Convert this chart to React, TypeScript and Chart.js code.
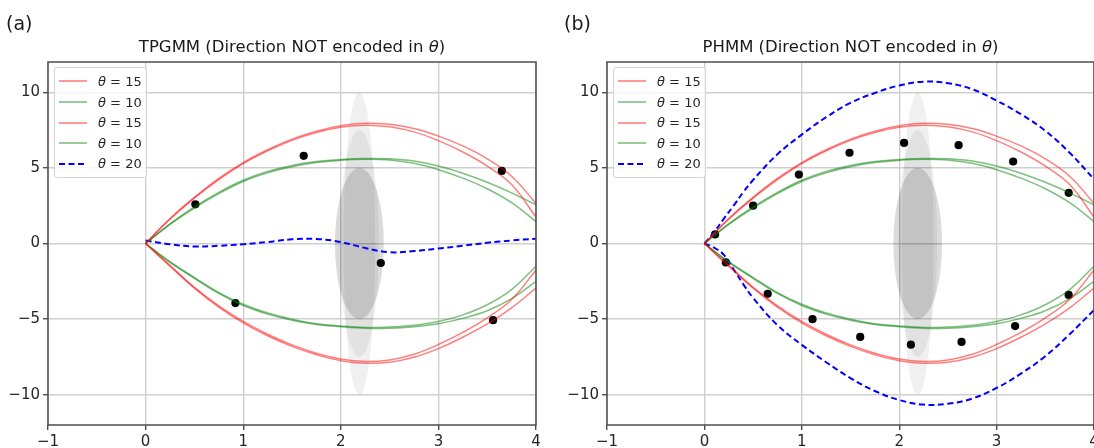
import React, { useEffect, useRef } from "react";
import { Chart, registerables } from "chart.js";

Chart.register(...registerables);

// ---------- data ----------
const xTicks = [-1, 0, 1, 2, 3, 4];
const yTicks = [-10, -5, 0, 5, 10];

const curveX = [0, 0.25, 0.5, 0.75, 1, 1.25, 1.5, 1.75, 2, 2.25, 2.5, 2.75, 3, 3.25, 3.5, 3.75, 4];
const redUpperOuter = [0, 1.65, 3.05, 4.3, 5.35, 6.2, 6.9, 7.42, 7.78, 7.95, 7.88, 7.6, 7.1, 6.45, 5.6, 4.45, 2.65];
const redUpperInner = [0, 1.6, 3.0, 4.22, 5.28, 6.12, 6.82, 7.33, 7.68, 7.82, 7.72, 7.38, 6.8, 6.05, 5.12, 3.9, 1.75];
const greenUpperOuter = [0, 1.3, 2.42, 3.38, 4.18, 4.76, 5.16, 5.42, 5.56, 5.62, 5.6, 5.45, 5.12, 4.65, 4.05, 3.35, 2.55];
const greenUpperInner = [0, 1.26, 2.34, 3.3, 4.1, 4.67, 5.07, 5.35, 5.5, 5.57, 5.52, 5.3, 4.88, 4.32, 3.62, 2.7, 1.45];
const redLowerOuter = [0, -1.5, -2.95, -4.2, -5.25, -6.1, -6.8, -7.35, -7.75, -7.92, -7.85, -7.52, -6.95, -6.2, -5.32, -4.25, -2.95];
const redLowerInner = [0, -1.45, -2.9, -4.12, -5.15, -6.0, -6.7, -7.25, -7.64, -7.8, -7.7, -7.32, -6.68, -5.88, -4.92, -3.7, -1.75];
const greenLowerOuter = [0, -1.25, -2.3, -3.3, -4.1, -4.67, -5.07, -5.35, -5.5, -5.6, -5.6, -5.5, -5.3, -4.95, -4.45, -3.65, -2.5];
const greenLowerInner = [0, -1.2, -2.25, -3.25, -4.02, -4.6, -5.0, -5.3, -5.45, -5.55, -5.52, -5.4, -5.15, -4.72, -4.05, -3.05, -1.5];
const blueLeftY = [0.2, -0.05, -0.2, -0.15, -0.05, 0.1, 0.28, 0.3, 0.1, -0.3, -0.58, -0.5, -0.33, -0.15, 0.05, 0.2, 0.32];

const blueRightX = [0, 0.1, 0.2, 0.3, 0.4, 0.5, 0.75, 1, 1.25, 1.5, 1.75, 2, 2.25, 2.5, 2.75, 3, 3.25, 3.5, 3.75, 4];
const blueRightUpper = [0, 0.75, 1.65, 2.5, 3.4, 4.2, 5.9, 7.2, 8.35, 9.3, 9.95, 10.45, 10.7, 10.6, 10.2, 9.45, 8.55, 7.45, 6.0, 4.25];
const blueRightLower = [0, -0.28, -0.75, -1.7, -2.7, -3.6, -5.4, -6.7, -7.85, -8.9, -9.75, -10.35, -10.65, -10.6, -10.25, -9.55, -8.6, -7.45, -6.0, -4.4];

const dotsLeftX = [0.51, 1.62, 3.65, 0.92, 2.41, 3.56];
const dotsLeftY = [2.59, 5.8, 4.8, -3.94, -1.29, -5.07];
const dotsRightX = [0.11, 0.5, 0.97, 1.49, 2.05, 2.61, 3.17, 3.74, 0.22, 0.65, 1.11, 1.6, 2.12, 2.64, 3.19, 3.74];
const dotsRightY = [0.6, 2.5, 4.56, 6.0, 6.65, 6.5, 5.42, 3.35, -1.25, -3.33, -5.0, -6.18, -6.69, -6.51, -5.46, -3.4];

const ellipseCx = [2.19, 2.19, 2.19];
const ellipseCy = [0, 0, 0];
const ellipseRx = [0.163, 0.2, 0.25];
const ellipseRy = [10, 7.5, 5];

const legendTheta = [15, 10, 15, 10, 20];

// ---------- styles ----------
const FONT = "'DejaVu Sans', sans-serif";
const RED = "rgba(255,0,0,0.5)";
const GREEN = "rgba(0,128,0,0.5)";
const BLUE = "#0000ff";
const legendColors = [RED, GREEN, RED, GREEN, BLUE];
const legendDashed = [false, false, false, false, true];
const ellipseFill = ["rgba(0,0,0,0.06)", "rgba(0,0,0,0.06)", "rgba(0,0,0,0.14)"];

function pts(xs: number[], ys: number[]) {
  return xs.map((x, i) => ({ x, y: ys[i] }));
}

function lineDs(xs: number[], ys: number[], color: string, width: number, dash: number[] = []) {
  return {
    data: pts(xs, ys),
    showLine: true,
    borderColor: color,
    backgroundColor: color,
    borderWidth: width,
    borderDash: dash,
    pointRadius: 0,
    pointHoverRadius: 0,
    tension: 0.4,
    fill: false,
  };
}

function demoDatasets() {
  return [
    lineDs(curveX, redUpperOuter, RED, 1.5),
    lineDs(curveX, redUpperInner, RED, 1.5),
    lineDs(curveX, redLowerOuter, RED, 1.5),
    lineDs(curveX, redLowerInner, RED, 1.5),
    lineDs(curveX, greenUpperOuter, GREEN, 1.5),
    lineDs(curveX, greenUpperInner, GREEN, 1.5),
    lineDs(curveX, greenLowerOuter, GREEN, 1.5),
    lineDs(curveX, greenLowerInner, GREEN, 1.5),
  ];
}

function dotDs(xs: number[], ys: number[]) {
  return {
    data: pts(xs, ys),
    showLine: false,
    pointRadius: 4.1,
    pointHoverRadius: 4.1,
    pointBackgroundColor: "#000",
    pointBorderColor: "#000",
    pointBorderWidth: 0,
  };
}

const ellipsePlugin = {
  id: "gaussEllipses",
  beforeDatasetsDraw(chart: any) {
    const { ctx, chartArea, scales } = chart;
    const sx = scales.x;
    const sy = scales.y;
    ctx.save();
    ctx.beginPath();
    ctx.rect(chartArea.left, chartArea.top, chartArea.right - chartArea.left, chartArea.bottom - chartArea.top);
    ctx.clip();
    ellipseCx.forEach((cx, i) => {
      const px = sx.getPixelForValue(cx);
      const py = sy.getPixelForValue(ellipseCy[i]);
      const rx = Math.abs(sx.getPixelForValue(cx + ellipseRx[i]) - px);
      const ry = Math.abs(sy.getPixelForValue(ellipseCy[i] + ellipseRy[i]) - py);
      ctx.beginPath();
      ctx.ellipse(px, py, rx, ry, 0, 0, Math.PI * 2);
      ctx.fillStyle = ellipseFill[i];
      ctx.fill();
    });
    ctx.restore();
  },
};

const framePlugin = {
  id: "axesFrame",
  afterDatasetsDraw(chart: any) {
    const { ctx, chartArea: a } = chart;
    ctx.save();
    ctx.strokeStyle = "#4d4d4d";
    ctx.lineWidth = 1.5;
    ctx.strokeRect(a.left, a.top, a.right - a.left, a.bottom - a.top);
    ctx.restore();
  },
};

function fmt(v: any) {
  const n = Number(v);
  return n < 0 ? "\u2212" + Math.abs(n) : String(n);
}

function PanelChart({ which, left, width }: { which: "a" | "b"; left: number; width: number }) {
  const ref = useRef<HTMLCanvasElement>(null);
  useEffect(() => {
    const datasets: any[] = demoDatasets();
    if (which === "a") {
      datasets.push(lineDs(curveX, blueLeftY, BLUE, 2, [6, 3.5]));
      datasets.push(dotDs(dotsLeftX, dotsLeftY));
    } else {
      datasets.push(lineDs(blueRightX, blueRightUpper, BLUE, 2, [6, 3.5]));
      datasets.push(lineDs(blueRightX, blueRightLower, BLUE, 2, [6, 3.5]));
      datasets.push(dotDs(dotsRightX, dotsRightY));
    }
    const gridCfg = {
      color: "#cfcfcf",
      lineWidth: 1.4,
      drawTicks: true,
      tickLength: 5,
      tickColor: "#4d4d4d",
      tickWidth: 1.4,
    };
    const tickFont = { family: FONT, size: 15 };
    const chart = new Chart(ref.current as HTMLCanvasElement, {
      type: "scatter",
      data: { datasets },
      options: {
        animation: false,
        responsive: false,
        devicePixelRatio: 1,
        layout: { padding: { top: 62, right: 10, bottom: 0, left: 0 } },
        plugins: {
          legend: { display: false },
          tooltip: { enabled: false },
          title: { display: false },
        },
        scales: {
          x: {
            type: "linear",
            min: -1,
            max: 4,
            afterBuildTicks: (s: any) => {
              s.ticks = xTicks.map((v) => ({ value: v }));
            },
            afterFit: (s: any) => {
              s.height = 23;
            },
            grid: gridCfg,
            border: { display: false },
            ticks: { font: tickFont, color: "#262626", padding: 3, autoSkip: false, maxRotation: 0, callback: fmt },
          },
          y: {
            type: "linear",
            min: -12,
            max: 12,
            afterBuildTicks: (s: any) => {
              s.ticks = yTicks.map((v) => ({ value: v }));
            },
            afterFit: (s: any) => {
              s.width = 48;
            },
            grid: gridCfg,
            border: { display: false },
            ticks: { font: tickFont, color: "#262626", padding: 3, autoSkip: false, callback: fmt },
          },
        },
      } as any,
      plugins: [ellipsePlugin, framePlugin],
    });
    return () => chart.destroy();
  }, [which]);
  return (
    <canvas
      ref={ref}
      width={width}
      height={448}
      style={{ position: "absolute", left, top: 0, width, height: 448 }}
    />
  );
}

function Legend({ left, top }: { left: number; top: number }) {
  return (
    <div
      style={{
        position: "absolute",
        left,
        top,
        width: 93,
        height: 111,
        boxSizing: "border-box",
        background: "rgba(255,255,255,0.8)",
        border: "1px solid #d4d4d4",
        borderRadius: 3,
      }}
    >
      {legendTheta.map((t, i) => (
        <div
          key={i}
          style={{
            position: "absolute",
            left: 4,
            top: 3.4 + i * 20.6,
            height: 20,
            display: "flex",
            alignItems: "center",
            whiteSpace: "nowrap",
          }}
        >
          <svg width={28} height={6} style={{ display: "block" }}>
            <line
              x1={0}
              y1={3}
              x2={28}
              y2={3}
              stroke={legendColors[i]}
              strokeWidth={legendDashed[i] ? 2 : 1.6}
              strokeDasharray={legendDashed[i] ? "6 3.5" : undefined}
            />
          </svg>
          <span style={{ marginLeft: 11, fontFamily: FONT, fontSize: 13, color: "#262626" }}>
            <i>θ</i> = {t}
          </span>
        </div>
      ))}
    </div>
  );
}

const titleStyle: React.CSSProperties = {
  position: "absolute",
  top: 37,
  textAlign: "center",
  fontFamily: FONT,
  fontSize: 16.5,
  color: "#1a1a1a",
  whiteSpace: "nowrap",
};

const tagStyle: React.CSSProperties = {
  position: "absolute",
  top: 12,
  fontFamily: FONT,
  fontSize: 19,
  color: "#1a1a1a",
};

export default function App() {
  return (
    <div
      style={{
        position: "fixed",
        left: 0,
        top: 0,
        width: 1094,
        height: 448,
        overflow: "hidden",
        background: "#fff",
      }}
    >
      <PanelChart which="a" left={0} width={546} />
      <PanelChart which="b" left={559} width={545} />
      <div style={{ ...tagStyle, left: 6 }}>(a)</div>
      <div style={{ ...tagStyle, left: 564 }}>(b)</div>
      <div style={{ ...titleStyle, left: 48, width: 488 }}>
        TPGMM (Direction NOT encoded in <i>θ</i>)
      </div>
      <div style={{ ...titleStyle, left: 607, width: 487 }}>
        PHMM (Direction NOT encoded in <i>θ</i>)
      </div>
      <Legend left={54} top={67} />
      <Legend left={613} top={67} />
    </div>
  );
}
